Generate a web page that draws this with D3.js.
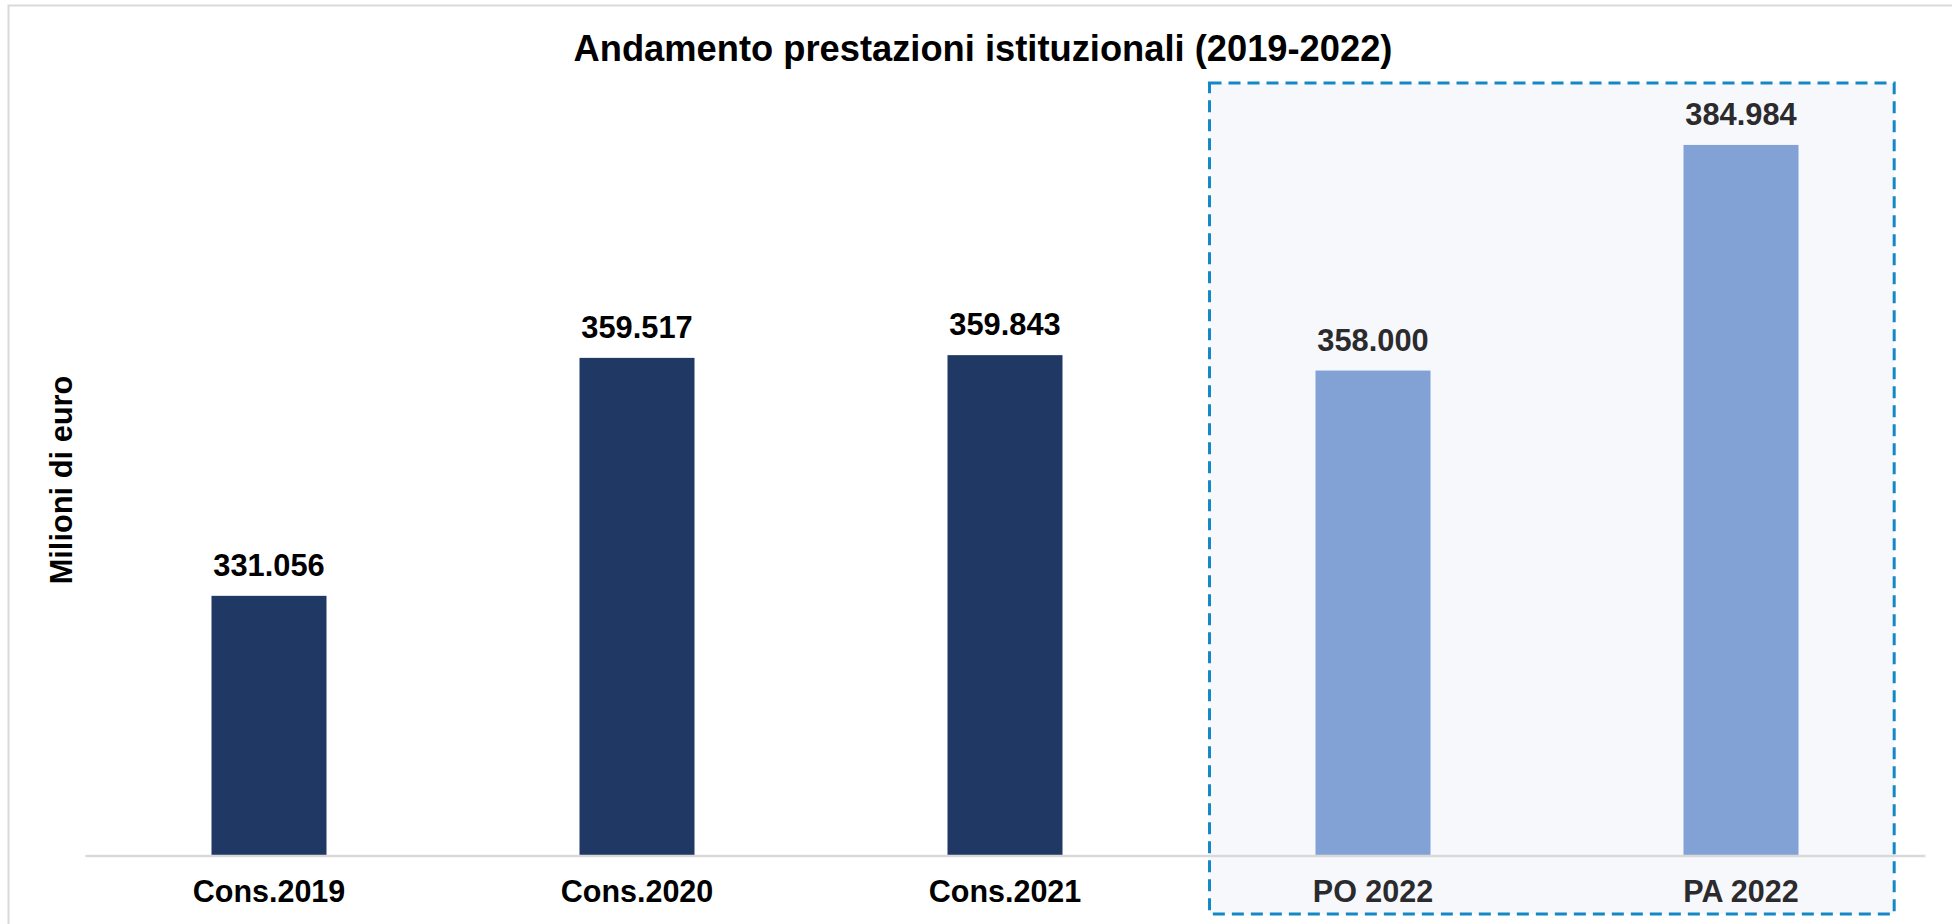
<!DOCTYPE html>
<html>
<head>
<meta charset="utf-8">
<script src="https://cdn.jsdelivr.net/npm/d3@7"></script>
<style>
  html, body { margin: 0; padding: 0; background: #ffffff; }
  svg { display: block; }
  text { font-family: "Liberation Sans", Arial, sans-serif; font-weight: bold; }
</style>
</head>
<body>
<svg id="chart" width="1952" height="924"></svg>
<script>
// ---- data ----
const categories = ["Cons.2019", "Cons.2020", "Cons.2021", "PO 2022", "PA 2022"];
const values = [331056, 359517, 359843, 358000, 384984]; // milioni di euro
const kinds = ["cons", "cons", "cons", "prev", "prev"];
const yDomain = [300000, 390000];
const titleText = "Andamento prestazioni istituzionali (2019-2022)";
const yAxisTitle = "Milioni di euro";

// ---- styles ----
const barColor = { cons: "#203864", prev: "#82A1D5" };
const labelColor = { cons: "#000000", prev: "#2b2b2e" };

const W = 1952, H = 924;
const svg = d3.select("#chart");

const locale = d3.formatLocale({ decimal: ",", thousands: ".", grouping: [3], currency: ["€", ""] });
const fmt = locale.format(",.0f");

const data = categories.map((c, i) => ({ cat: c, val: values[i], kind: kinds[i] }));

const x = d3.scaleBand().domain(categories).range([85, 1925])
  .paddingInner(0.6875).paddingOuter(0.34375);
const y = d3.scaleLinear().domain(yDomain).range([855.5, 103]);

// outer chart frame
svg.append("rect")
  .attr("x", 8.5).attr("y", 5.5).attr("width", W + 20).attr("height", H + 20)
  .attr("fill", "none").attr("stroke", "#D9D9D9").attr("stroke-width", 2);

// title
svg.append("text")
  .attr("x", 983).attr("y", 61)
  .attr("text-anchor", "middle")
  .attr("font-size", 36.3)
  .attr("fill", "#000")
  .text(titleText);

// highlight box for 2022 (behind bars)
const step = x.step();
const boxX0 = x("PO 2022") - step * 0.288;
const boxX1 = x("PA 2022") + x.bandwidth() + step * 0.26;
const boxY0 = 83, boxY1 = 914;
svg.append("rect")
  .attr("x", boxX0).attr("y", boxY0)
  .attr("width", boxX1 - boxX0).attr("height", boxY1 - boxY0)
  .attr("fill", "#F7F8FC");

// bars
svg.append("g").selectAll("rect").data(data).join("rect")
  .attr("x", d => x(d.cat))
  .attr("y", d => y(d.val))
  .attr("width", x.bandwidth())
  .attr("height", d => y(yDomain[0]) - y(d.val))
  .attr("fill", d => barColor[d.kind]);

// value labels
svg.append("g").selectAll("text").data(data).join("text")
  .attr("x", d => x(d.cat) + x.bandwidth() / 2)
  .attr("y", d => y(d.val) - 20)
  .attr("text-anchor", "middle")
  .attr("font-size", 30.8)
  .attr("fill", d => labelColor[d.kind])
  .text(d => fmt(d.val));

// x axis
const xAxis = d3.axisBottom(x).tickSize(0).tickPadding(25);
const gx = svg.append("g").attr("transform", `translate(0,${y(yDomain[0])})`).call(xAxis);
gx.select(".domain").attr("stroke", "#D9D9D9").attr("stroke-width", 2.5);
gx.selectAll(".tick text")
  .attr("font-size", 30.5)
  .attr("font-family", "Liberation Sans, Arial, sans-serif")
  .attr("font-weight", "bold")
  .attr("fill", (d, i) => labelColor[kinds[i]]);

// y axis title
svg.append("text")
  .attr("transform", "translate(72,480) rotate(-90)")
  .attr("text-anchor", "middle")
  .attr("font-size", 30.8)
  .attr("fill", "#000")
  .text(yAxisTitle);

// dashed border of highlight box (on top)
svg.append("rect")
  .attr("x", boxX0).attr("y", boxY0)
  .attr("width", boxX1 - boxX0).attr("height", boxY1 - boxY0)
  .attr("fill", "none")
  .attr("stroke", "#1488C6")
  .attr("stroke-width", 3)
  .attr("stroke-dasharray", "12,7");
</script>
</body>
</html>
